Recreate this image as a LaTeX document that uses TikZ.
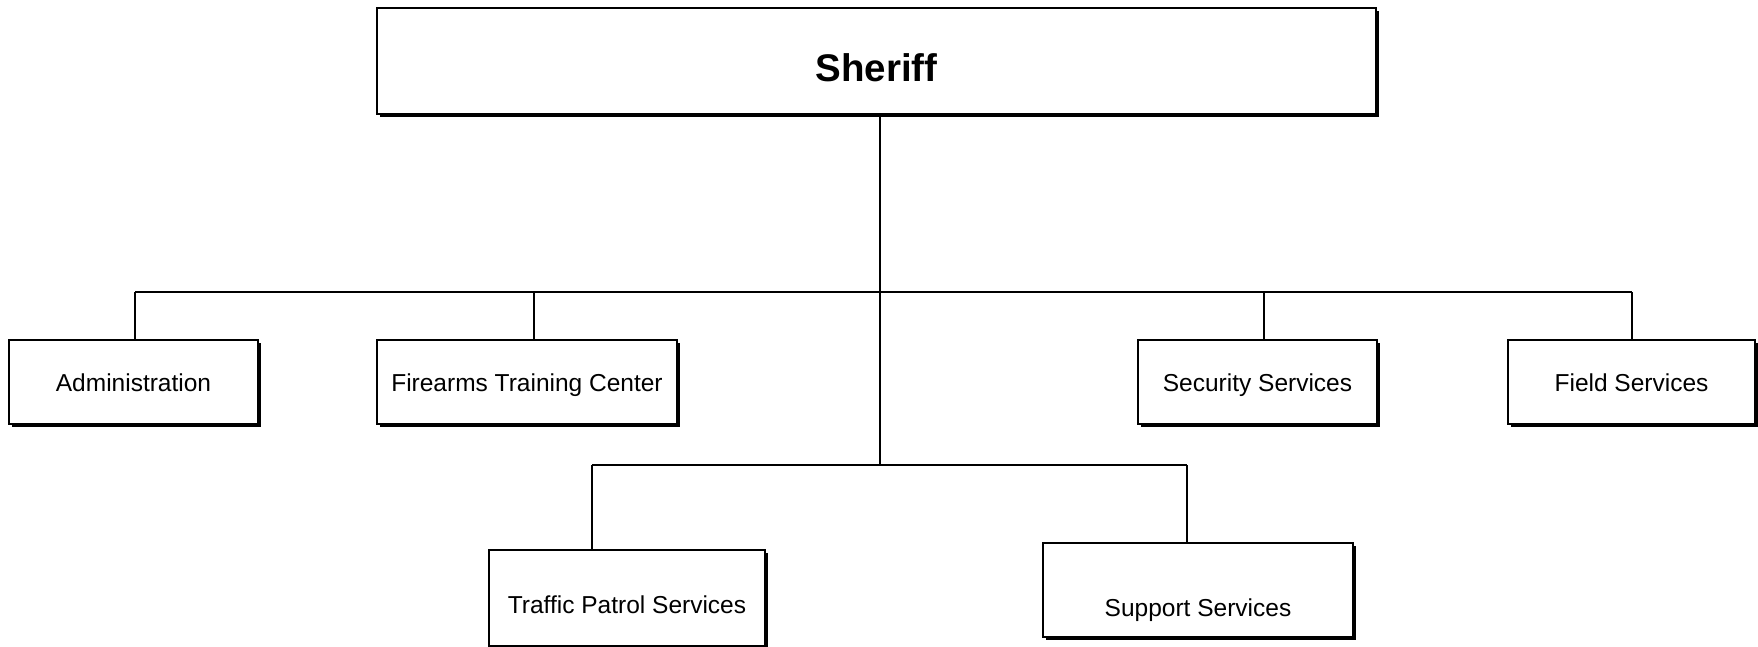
\documentclass[tikz,border=0pt]{standalone}
\usepackage{fontspec}
\setmainfont{Liberation Sans}
\usetikzlibrary{shadows}
\begin{document}
\begin{tikzpicture}[x=1pt,y=-1pt,
  box/.style={draw=black, line width=1.3pt, fill=white, inner sep=0pt,
    minimum height=84pt, font=\fontsize{24.5}{28}\selectfont,
    text height=18pt, text depth=0pt,
    general shadow={fill=black, shadow xshift=3pt, shadow yshift=-3pt}},
  link/.style={line width=2pt}]
\useasboundingbox (0,0) rectangle (1758,647);
% boxes
\node[box, minimum width=999pt, minimum height=106pt,
  font=\fontsize{38.5}{42}\bfseries\selectfont, text height=41pt, text depth=0pt]
  (sheriff) at (876.5,61) {Sheriff};
\node[box, minimum width=249pt] (admin) at (133.5,382) {Administration};
\node[box, minimum width=300pt] (firearms) at (527,382) {Firearms Training Center};
\node[box, minimum width=239pt] (security) at (1257.5,382) {Security Services};
\node[box, minimum width=247pt] (field) at (1631.5,382) {Field Services};
\node[box, minimum width=276pt, minimum height=96pt, text height=30pt, text depth=0pt]
  (traffic) at (627,598) {Traffic Patrol Services};
\node[box, minimum width=310pt, minimum height=94pt, text height=57pt, text depth=5pt]
  (support) at (1198,590) {Support Services};
% junctions
\coordinate (j1) at (880,292);
\coordinate (j2) at (880,465);
\coordinate (dadmin) at (135,292);
\coordinate (dfire) at (533.5,292);
\coordinate (dsec) at (1263.5,292);
\coordinate (dfield) at (1631.5,292);
\coordinate (dtraffic) at (592,465);
\coordinate (dsupport) at (1186.5,465);
% connectors
\draw[link] (sheriff.south -| j1) -- (j1) -- (j2);
\draw[link] (dadmin) -- (dfield);
\draw[link] (dtraffic) -- (dsupport);
\draw[link] (dadmin) -- (dadmin |- admin.north);
\draw[link] (dfire) -- (dfire |- firearms.north);
\draw[link] (dsec) -- (dsec |- security.north);
\draw[link] (dfield) -- (dfield |- field.north);
\draw[link] (dtraffic) -- (dtraffic |- traffic.north);
\draw[link] (dsupport) -- (dsupport |- support.north);
\end{tikzpicture}
\end{document}
